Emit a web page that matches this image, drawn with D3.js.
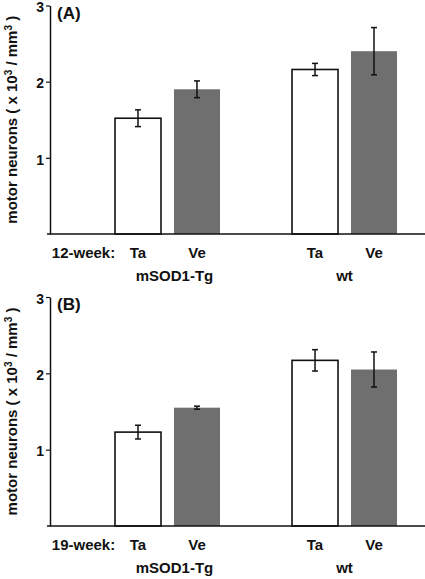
<!DOCTYPE html>
<html><head><meta charset="utf-8">
<script src="https://cdn.jsdelivr.net/npm/d3@7"></script>
<style>body{margin:0;background:#fff}svg{display:block}text{font-family:"Liberation Sans",Arial,sans-serif;font-weight:bold;fill:#111}</style>
</head><body><svg id="c" width="425" height="579"></svg>
<script>
const groups = ["mSOD1-Tg", "wt"];
const treatments = ["Ta", "Ve"];
const weeks = ["12-week:", "19-week:"];
const panelLabels = ["(A)", "(B)"];
const means12 = [1.52, 1.90, 2.16, 2.40];
const errs12 = [0.11, 0.11, 0.08, 0.31];
const means19 = [1.23, 1.55, 2.17, 2.05];
const errs19 = [0.09, 0.02, 0.14, 0.23];
const yTicks = [1, 2, 3];

const panels = [
  {label: panelLabels[0], week: weeks[0], means: means12, errs: errs12, top: 5.5, base: 234},
  {label: panelLabels[1], week: weeks[1], means: means19, errs: errs19, top: 297, base: 526}
];
const svg = d3.select("#c");
const xG = d3.scaleBand().domain(groups).range([115, 397]).paddingInner(0.407).paddingOuter(0);
const xT = d3.scaleBand().domain(treatments).range([0, xG.bandwidth()]).paddingInner(0.22).paddingOuter(0);
const fills = {Ta: "#ffffff", Ve: "#6f6f6f"};
const axisX = 50;

panels.forEach(p => {
  const y = d3.scaleLinear().domain([0, 3]).range([p.base, p.top]);
  const g = svg.append("g");
  const data = [];
  groups.forEach((gr, gi) => treatments.forEach((t, ti) => {
    const i = gi * 2 + ti;
    data.push({group: gr, t, v: p.means[i], e: p.errs[i]});
  }));
  // bars
  g.selectAll("rect.bar").data(data).join("rect")
    .attr("x", d => xG(d.group) + xT(d.t))
    .attr("width", xT.bandwidth())
    .attr("y", d => y(d.v))
    .attr("height", d => y(0) - y(d.v))
    .attr("fill", d => fills[d.t])
    .attr("stroke", d => d.t === "Ta" ? "#111" : "none")
    .attr("stroke-width", 1.6);
  // error bars
  const eb = g.selectAll("g.err").data(data).join("g").attr("stroke", "#111").attr("stroke-width", 1.5);
  eb.append("line").attr("x1", d => xG(d.group) + xT(d.t) + xT.bandwidth()/2)
    .attr("x2", d => xG(d.group) + xT(d.t) + xT.bandwidth()/2)
    .attr("y1", d => y(d.v + d.e)).attr("y2", d => y(d.v - d.e));
  [1, -1].forEach(s => {
    eb.append("line").attr("x1", d => xG(d.group) + xT(d.t) + xT.bandwidth()/2 - 3)
      .attr("x2", d => xG(d.group) + xT(d.t) + xT.bandwidth()/2 + 3)
      .attr("y1", d => y(d.v + s * d.e)).attr("y2", d => y(d.v + s * d.e));
  });
  // y axis
  const ax = g.append("g").attr("transform", `translate(${axisX},0)`)
    .call(d3.axisLeft(y).tickValues(yTicks).tickFormat(d3.format("d")).tickSize(4).tickSizeOuter(0));
  ax.select(".domain").attr("stroke", "#111").attr("stroke-width", 1.5);
  ax.selectAll(".tick line").attr("stroke", "#111").attr("stroke-width", 1.2);
  ax.selectAll(".tick text").attr("font-size", 14).attr("x", -6).attr("dy", "0.45em").attr("fill", "#111")
    .attr("font-family", "Liberation Sans, Arial, sans-serif").attr("font-weight", "bold");
  // x baseline
  g.append("line").attr("x1", 47).attr("x2", 425).attr("y1", y(0)).attr("y2", y(0))
    .attr("stroke", "#111").attr("stroke-width", 1.6);
  // panel label
  g.append("text").attr("x", 57).attr("y", p.top + 13).attr("font-size", 17).text(p.label);
  // category labels
  g.selectAll("text.tr").data(data).join("text")
    .attr("x", d => xG(d.group) + xT(d.t) + xT.bandwidth()/2)
    .attr("y", y(0) + 19).attr("dy", "0.35em").attr("text-anchor", "middle").attr("font-size", 15)
    .text(d => d.t);
  g.append("text").attr("x", 83.5).attr("y", y(0) + 19).attr("dy", "0.35em")
    .attr("text-anchor", "middle").attr("font-size", 15).text(p.week);
  g.selectAll("text.gr").data(groups).join("text")
    .attr("x", (d, i) => i === 0 ? xG(d) + xG.bandwidth()/2 + 7 : xG(d) + xG.bandwidth()/2)
    .attr("y", y(0) + 42).attr("dy", "0.35em").attr("text-anchor", "middle").attr("font-size", 15)
    .text(d => d);
  // y label
  const yl = g.append("text").attr("transform", `translate(12,${(p.base + p.top)/2}) rotate(-90)`)
    .attr("text-anchor", "middle").attr("dy", "0.35em").attr("font-size", 15);
  yl.append("tspan").text("motor neurons ( x 10");
  yl.append("tspan").attr("baseline-shift", "super").attr("font-size", 10).text("3");
  yl.append("tspan").text(" / mm");
  yl.append("tspan").attr("baseline-shift", "super").attr("font-size", 10).text("3");
  yl.append("tspan").text(" )");
});
</script></body></html>
